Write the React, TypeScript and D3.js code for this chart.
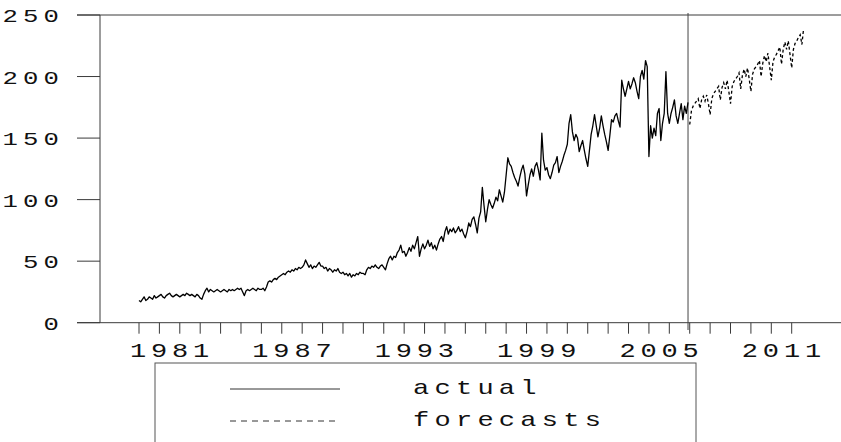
import React, { useEffect, useRef } from 'react';
import * as d3 from 'd3';

// monthly observations, first value = Jan 1980
const actualStart = 1980;
const actual: number[] = [
  18, 17, 19, 21, 18, 19, 21, 20, 19, 22, 20, 21, // 1980
  22, 23, 21, 20, 22, 23, 24, 22, 21, 22, 23, 22, // 1981
  21, 22, 23, 22, 24, 23, 22, 23, 22, 21, 23, 22, // 1982
  20, 19, 23, 26, 28, 25, 27, 26, 25, 26, 27, 26, // 1983
  25, 26, 27, 26, 25, 27, 26, 27, 26, 27, 28, 27, // 1984
  28, 25, 22, 26, 27, 26, 27, 28, 27, 26, 28, 27, // 1985
  27, 28, 26, 29, 33, 34, 33, 35, 36, 35, 37, 38, // 1986
  39, 40, 39, 41, 42, 41, 43, 42, 44, 43, 45, 44, // 1987
  45, 47, 51, 48, 45, 47, 44, 46, 45, 47, 49, 46, // 1988
  46, 44, 45, 42, 44, 43, 41, 43, 42, 44, 41, 40, // 1989
  41, 39, 40, 38, 40, 37, 39, 38, 40, 39, 41, 40, // 1990
  40, 39, 43, 45, 44, 46, 45, 47, 45, 44, 46, 47, // 1991
  45, 43, 48, 52, 54, 51, 54, 53, 57, 59, 63, 57, // 1992
  58, 54, 57, 61, 58, 63, 60, 65, 70, 54, 60, 64, // 1993
  60, 63, 67, 62, 65, 60, 63, 59, 64, 68, 70, 66, // 1994
  74, 78, 72, 76, 74, 77, 73, 75, 78, 74, 76, 72, // 1995
  69, 74, 81, 78, 84, 86, 80, 73, 85, 90, 110, 95, // 1996
  82, 92, 100, 96, 93, 97, 102, 99, 108, 103, 98, 106, // 1997
  120, 134, 129, 127, 122, 118, 115, 111, 118, 124, 128, 121, // 1998
  103, 112, 120, 125, 119, 127, 130, 124, 116, 154, 132, 124, // 1999
  126, 120, 117, 122, 128, 130, 135, 122, 127, 131, 136, 140, // 2000
  145, 162, 169, 155, 148, 153, 150, 139, 144, 148, 140, 133, // 2001
  127, 140, 153, 160, 169, 160, 151, 158, 168, 160, 153, 147, // 2002
  140, 152, 165, 163, 168, 170, 164, 159, 197, 190, 184, 190, // 2003
  196, 190, 194, 199, 195, 188, 182, 200, 205, 198, 213, 208, // 2004
  135, 160, 150, 158, 152, 170, 174, 148, 162, 170, 204, 170, // 2005
  162, 170, 175, 181, 168, 162, 170, 178, 165, 176, 170, 179, // 2006
];

// monthly forecasts, first value = Jan 2007
const forecastStart = 2007;
const forecasts: number[] = [
  161, 172, 176, 178, 180, 182, 174, 181, 184, 180, 185, 178, // 2007
  169, 182, 186, 188, 190, 192, 181, 191, 195, 190, 197, 188, // 2008
  178, 192, 196, 198, 200, 203, 190, 201, 206, 200, 207, 198, // 2009
  188, 202, 206, 208, 210, 213, 200, 211, 217, 212, 219, 208, // 2010
  197, 212, 216, 218, 221, 224, 210, 222, 228, 222, 229, 218, // 2011
  207, 222, 227, 229, 232, 234, 226, 239, // 2012
];

const yTicks = [0, 50, 100, 150, 200, 250];
const labelYears = [1981, 1987, 1993, 1999, 2005, 2011];
const legendLabels = ['actual', 'forecasts'];

const W = 841;
const H = 442;
const FONT = '"Liberation Mono", "DejaVu Sans Mono", monospace';
const SX = 1.35; // glyphs in the original are wide, stretch horizontally

const Chart: React.FC = () => {
  const svgRef = useRef<SVGSVGElement>(null);

  useEffect(() => {
    if (!svgRef.current) return;
    const svg = d3.select(svgRef.current);
    svg.selectAll('*').remove();

    const x = d3.scaleLinear().domain([1980, 2012]).range([139, 791.7]);
    const y = d3.scaleLinear().domain([0, 250]).range([322.7, 15]);
    const axisColor = '#3a3a3a';

    // frame: top line, left axis, bottom axis
    svg.append('line')
      .attr('x1', 77).attr('x2', W).attr('y1', y(250)).attr('y2', y(250))
      .attr('stroke', axisColor).attr('stroke-width', 1);
    svg.append('line')
      .attr('x1', 77).attr('x2', W).attr('y1', y(0)).attr('y2', y(0))
      .attr('stroke', axisColor).attr('stroke-width', 1);
    svg.append('line')
      .attr('x1', 100).attr('x2', 100).attr('y1', y(250)).attr('y2', y(0))
      .attr('stroke', axisColor).attr('stroke-width', 1);

    // y ticks + labels
    const yg = svg.append('g');
    const yLs = 3.8;
    yTicks.forEach(v => {
      yg.append('line')
        .attr('x1', 77).attr('x2', 100).attr('y1', y(v)).attr('y2', y(v))
        .attr('stroke', axisColor).attr('stroke-width', 1);
      yg.append('text')
        .attr('transform', `translate(${59 + yLs * SX},${y(v) + 7}) scale(${SX},1)`)
        .attr('text-anchor', 'end')
        .attr('font-family', FONT)
        .attr('font-size', 19)
        .attr('letter-spacing', yLs)
        .attr('fill', '#111')
        .text(String(v));
    });

    // x ticks (one per year) + labels centred on the year
    const xg = svg.append('g');
    const xLs = 3.6;
    d3.range(1980, 2013).forEach(yr => {
      xg.append('line')
        .attr('x1', x(yr)).attr('x2', x(yr)).attr('y1', y(0)).attr('y2', y(0) + 11)
        .attr('stroke', axisColor).attr('stroke-width', 1);
    });
    labelYears.forEach(yr => {
      xg.append('text')
        .attr('transform', `translate(${x(yr + 0.5) + (xLs * SX) / 2},357) scale(${SX},1)`)
        .attr('text-anchor', 'middle')
        .attr('font-family', FONT)
        .attr('font-size', 20)
        .attr('letter-spacing', xLs)
        .attr('fill', '#111')
        .text(String(yr));
    });

    // vertical marker at end of actual sample
    const lastActual = actualStart + (actual.length - 1) / 12;
    svg.append('line')
      .attr('x1', x(lastActual)).attr('x2', x(lastActual))
      .attr('y1', 13).attr('y2', 330)
      .attr('stroke', '#444').attr('stroke-width', 1);

    const line = d3.line<number>()
      .x((_, i) => x(actualStart + i / 12))
      .y(d => y(d));
    svg.append('path')
      .datum(actual)
      .attr('fill', 'none')
      .attr('stroke', '#000')
      .attr('stroke-width', 1.3)
      .attr('stroke-linejoin', 'round')
      .attr('d', line);

    const fLine = d3.line<number>()
      .x((_, i) => x(forecastStart + i / 12))
      .y(d => y(d));
    svg.append('path')
      .datum(forecasts)
      .attr('fill', 'none')
      .attr('stroke', '#000')
      .attr('stroke-width', 1.3)
      .attr('stroke-dasharray', '3,2.5')
      .attr('d', fLine);

    // legend
    const lg = svg.append('g');
    const lLs = 3.9;
    lg.append('rect')
      .attr('x', 155).attr('y', 363).attr('width', 541).attr('height', 120)
      .attr('fill', 'none').attr('stroke', '#555').attr('stroke-width', 1);
    legendLabels.forEach((lab, i) => {
      const ly = 389 + i * 32;
      lg.append('line')
        .attr('x1', 230).attr('x2', 340).attr('y1', ly).attr('y2', ly)
        .attr('stroke', '#333').attr('stroke-width', 1)
        .attr('stroke-dasharray', i === 1 ? '6,5' : null);
      lg.append('text')
        .attr('transform', `translate(413,${ly + 5}) scale(${SX},1)`)
        .attr('font-family', FONT)
        .attr('font-size', 20)
        .attr('letter-spacing', lLs)
        .attr('fill', '#111')
        .text(lab);
    });
  }, []);

  return (
    <svg
      ref={svgRef}
      width={W}
      height={H}
      style={{ position: 'absolute', left: 0, top: 0, background: '#fff' }}
    />
  );
};

export default function App() {
  return <Chart />;
}
